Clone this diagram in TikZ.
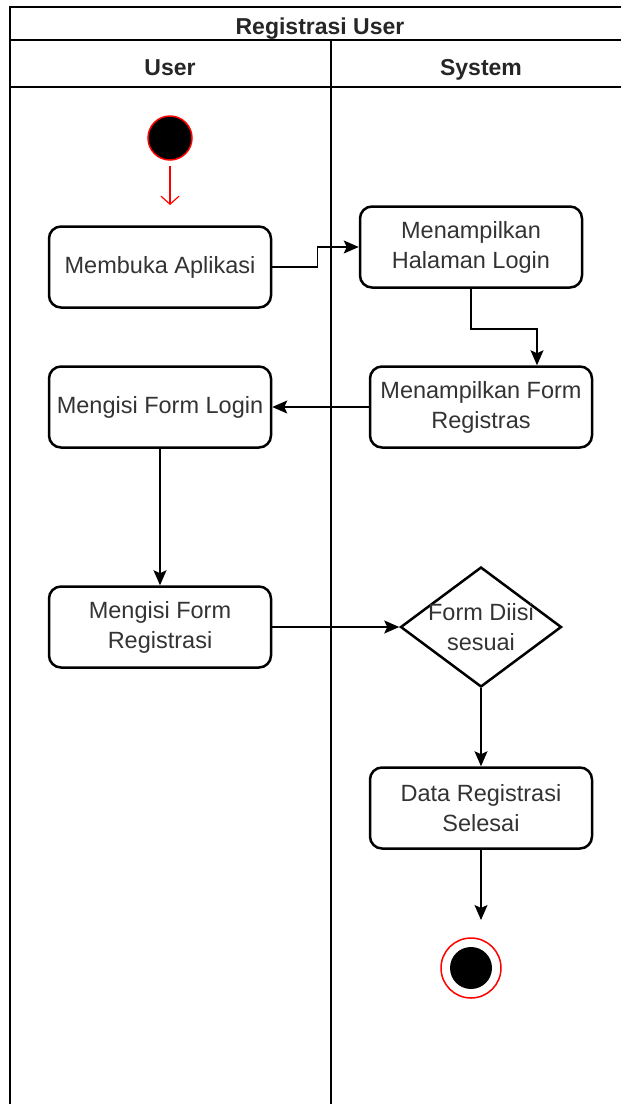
\documentclass[tikz,border=0pt]{standalone}
\usepackage{fontspec}
\setmainfont{Liberation Sans}
\usepackage{tikz}
\usetikzlibrary{positioning,arrows.meta,shapes.geometric}
\def\BoxWidth{222pt}
\def\BoxHeight{81pt}
\tikzset{
	actbox/.style={draw, rectangle, rounded corners=12pt, line width=2.5pt,
		minimum width=\BoxWidth, minimum height=\BoxHeight, inner sep=1pt,
		align=center, text=black!80, font=\fontsize{23.5}{30}\selectfont},
	decbox/.style={draw, diamond, line width=2.5pt, inner sep=0pt,
		minimum width=161pt, minimum height=120pt},
	startdot/.style={circle, fill=black, draw=red, line width=1.5pt,
		minimum size=44pt, inner sep=0pt},
	enddot/.style={circle, draw=red, line width=1.5pt, minimum size=60pt, inner sep=0pt,
		path picture={\fill[black] (path picture bounding box.center) circle (21pt);}},
	flow/.style={line width=1.5pt, -{Stealth[length=15pt,width=13pt,inset=3pt]}},
	startflow/.style={red, line width=1.2pt, -{Straight Barb[length=8pt,width=18pt]}},
	lane/.style={line width=2pt},
	lanehead/.style={anchor=base, font=\bfseries\fontsize{23}{26}\selectfont, text=black!85}
}
\begin{document}
\begin{tikzpicture}[x=1pt,y=-1pt]
	\useasboundingbox (0,0) rectangle (621,1104);
	% 
	% swimlane frame
	\draw[lane] (630,7) -- (10,7) -- (10,1110);
	\draw[lane] (10,40) -- (630,40);
	\draw[lane] (10,87) -- (630,87);
	\draw[lane] (331,40) -- (331,1110);
	\node[lanehead] (title) at (320,34) {Registrasi User};
	\node[lanehead] (hduser) at (170,75) {User};
	\node[lanehead] (hdsys) at (481,75) {System};
	% 
	% user lane
	\node[startdot] (start) at (170,138) {};
	\coordinate (starttip) at (170,205);
	\node[actbox] (buka) at (160,267) {Membuka Aplikasi};
	\node[actbox] (isilogin) at (160,407) {Mengisi Form Login};
	\node[actbox] (isireg) at (160,627) {Mengisi Form\\Registrasi};
	% 
	% system lane
	\node[actbox] (halaman) at (471,247) {Menampilkan\\Halaman Login};
	\node[actbox] (formreg) at (481,407) {Menampilkan Form\\Registras};
	\node[decbox, label={[align=center, text=black!80, font=\fontsize{23.5}{30}\selectfont]center:Form Diisi\\sesuai}] (dec) at (481,627) {};
	\node[actbox] (selesai) at (481,808) {Data Registrasi\\Selesai};
	\coordinate (endtip) at (481,920);
	\node[enddot] (end) at (471,968) {};
	% 
	\draw[startflow, shorten <=5pt] (start.south) -- (starttip);
	\draw[flow] (buka.east) -- ++(45,0) |- (halaman.west);
	\draw[flow] (halaman.south) -- ++(0,40) -| ([xshift=56pt]formreg.north);
	\draw[flow] (formreg.west) -- (isilogin.east);
	\draw[flow] (isilogin.south) -- (isireg.north);
	\draw[flow] (isireg.east) -- (dec.west);
	\draw[flow] (dec.south) -- (selesai.north);
	\draw[flow] (selesai.south) -- (endtip);
\end{tikzpicture}
\end{document}
